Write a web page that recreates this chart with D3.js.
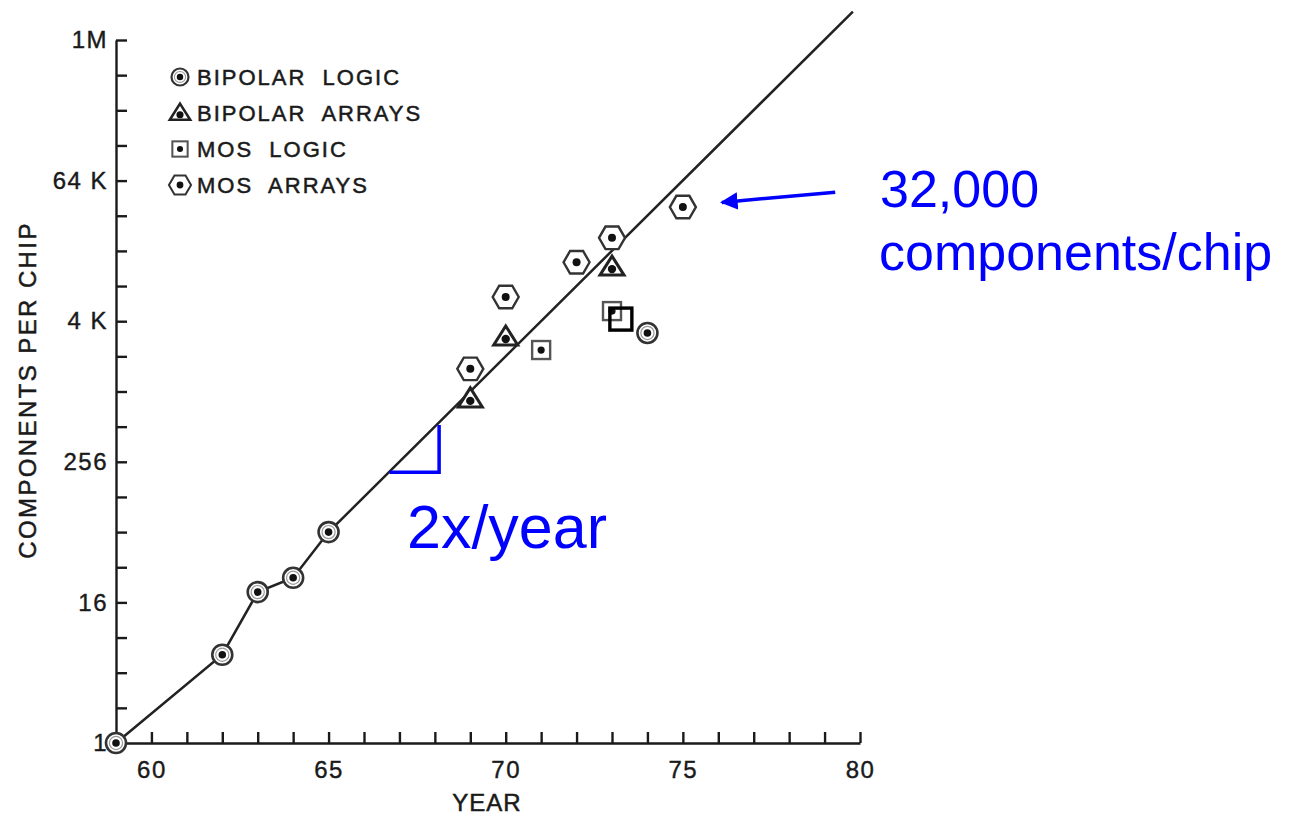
<!DOCTYPE html>
<html>
<head>
<meta charset="utf-8">
<script src="https://cdn.jsdelivr.net/npm/d3@7"></script>
<style>
  body { margin: 0; background: #fff; }
  .lettering { font-family: "Liberation Sans", Arial, sans-serif; fill: #1a1a1a; stroke: #1a1a1a; stroke-width: 0.5; }
  .axis path, .axis line { stroke: #1a1a1a; stroke-width: 2.4; }
  .axis text { font-family: "Liberation Sans", Arial, sans-serif; fill: #1a1a1a; stroke: #1a1a1a; stroke-width: 0.4; font-size: 24px; letter-spacing: 1.5px; }
  .note { font-family: "Liberation Sans", Arial, sans-serif; fill: #0000ff; }
</style>
</head>
<body>
<div id="chart"></div>
<script>
var svgWidth = 1295;
var svgHeight = 815;

// 1959-65 measured points and the extrapolated doubling line
var trendYears = [59, 62, 63, 64, 65, 79.8];
var trendValues = [1, 5.7, 19.6, 26, 64, 1835000];

var bipolarLogicYears = [59, 62, 63, 64, 65, 74];
var bipolarLogicValues = [1, 5.7, 19.6, 26, 64, 3250];

var bipolarArraysYears = [69, 70, 73];
var bipolarArraysValues = [885, 3000, 11900];

var mosLogicYears = [71, 73];
var mosLogicValues = [2320, 5000];

var mosArraysYears = [69, 70, 72, 73, 75];
var mosArraysValues = [1600, 6600, 13100, 21200, 38900];

// hand-added open square
var extraYears = [73.25];
var extraValues = [4270];

var yTickValues = d3.range(0, 21).map(d => Math.pow(2, d));
var yTickLabels = {1: "1", 16: "16", 256: "256", 4096: "4 K", 65536: "64 K", 1048576: "1M"};
var xTickValues = d3.range(60, 81);
var legendLabels = ["BIPOLAR  LOGIC", "BIPOLAR  ARRAYS", "MOS  LOGIC", "MOS  ARRAYS"];

var svg = d3.select("#chart").append("svg").attr("width", svgWidth).attr("height", svgHeight);

var xScale = d3.scaleLinear().domain([59, 80]).range([116, 860]);
var yScale = d3.scaleLog().base(2).domain([1, Math.pow(2, 20)]).range([743, 40]);

var bottomAxis = d3.axisBottom(xScale).tickValues(xTickValues)
    .tickFormat(d => d % 5 === 0 ? d : "").tickSizeInner(-11).tickSizeOuter(0).tickPadding(18);
var leftAxis = d3.axisLeft(yScale).tickValues(yTickValues)
    .tickFormat(d => yTickLabels[d] || "").tickSizeInner(-11).tickSizeOuter(0).tickPadding(8);

svg.append("g").attr("class", "axis").attr("transform", "translate(0,743)").call(bottomAxis);
svg.append("g").attr("class", "axis").attr("transform", "translate(116,0)").call(leftAxis);

svg.append("text").attr("class", "lettering").attr("x", 487).attr("y", 811)
    .attr("text-anchor", "middle").style("font-size", "24px").style("letter-spacing", "1px").text("YEAR");
svg.append("text").attr("class", "lettering").attr("transform", "translate(36,390) rotate(-90)")
    .attr("text-anchor", "middle").style("font-size", "24px").style("letter-spacing", "2.4px")
    .text("COMPONENTS PER CHIP");

// trend line
var trend = d3.zip(trendYears, trendValues);
svg.append("path").datum(trend)
    .attr("d", d3.line().x(d => xScale(d[0])).y(d => yScale(d[1])))
    .attr("fill", "none").attr("stroke", "#222").attr("stroke-width", 2.5);

// marker drawing helpers
function hexPath(r) {
    var pts = d3.range(6).map(i => [r * Math.cos(i * Math.PI / 3), r * Math.sin(i * Math.PI / 3)]);
    return d3.line()(pts) + "Z";
}
function drawMarker(g, kind) {
    if (kind === "circle") {
        g.append("circle").attr("r", 10).attr("fill", "#fff").attr("stroke", "#333").attr("stroke-width", 2.6);
        g.append("circle").attr("r", 6.6).attr("fill", "none").attr("stroke", "#999").attr("stroke-width", 1.2);
        g.append("circle").attr("r", 3.8).attr("fill", "#111");
    } else if (kind === "triangle") {
        g.append("path").attr("d", "M0,-11L12,8L-12,8Z").attr("fill", "#fff").attr("stroke", "#222").attr("stroke-width", 3);
        g.append("circle").attr("cy", 2).attr("r", 4.2).attr("fill", "#111");
    } else if (kind === "square") {
        g.append("rect").attr("x", -9).attr("y", -9).attr("width", 18).attr("height", 18)
            .attr("fill", "#fff").attr("stroke", "#555").attr("stroke-width", 2.4);
        g.append("circle").attr("r", 3.6).attr("fill", "#111");
    } else if (kind === "hexagon") {
        g.append("path").attr("d", hexPath(13)).attr("fill", "#fff").attr("stroke", "#333").attr("stroke-width", 2.4);
        g.append("circle").attr("r", 4).attr("fill", "#111");
    } else if (kind === "open") {
        g.append("rect").attr("x", -11).attr("y", -11).attr("width", 22).attr("height", 22)
            .attr("fill", "none").attr("stroke", "#000").attr("stroke-width", 3.4);
    }
}

var series = [
    {kind: "circle", years: bipolarLogicYears, values: bipolarLogicValues},
    {kind: "triangle", years: bipolarArraysYears, values: bipolarArraysValues},
    {kind: "square", years: mosLogicYears, values: mosLogicValues},
    {kind: "hexagon", years: mosArraysYears, values: mosArraysValues},
    {kind: "open", years: extraYears, values: extraValues}
];

series.forEach(function(s) {
    var pts = d3.zip(s.years, s.values);
    svg.selectAll(null).data(pts).enter().append("g")
        .attr("transform", d => `translate(${xScale(d[0])},${yScale(d[1])})`)
        .each(function() { drawMarker(d3.select(this), s.kind); });
});

// legend
var legend = svg.append("g").attr("transform", "translate(180,77)");
legendLabels.forEach(function(label, i) {
    var row = legend.append("g").attr("transform", `translate(0,${i * 36})`);
    var m = row.append("g").attr("transform", "scale(0.85)");
    drawMarker(m, series[i].kind);
    row.append("text").attr("class", "lettering").attr("x", 17).attr("y", 8)
        .style("font-size", "22px").style("letter-spacing", "2px").style("white-space", "pre")
        .text(label);
});

// blue annotations
var blue = "#0000ff";
svg.append("path")
    .attr("d", `M${xScale(66.72)},${yScale(Math.pow(2, 7.7))}H${xScale(68.12)}V${yScale(Math.pow(2, 9.05))}`)
    .attr("fill", "none").attr("stroke", blue).attr("stroke-width", 3.5);
svg.append("text").attr("class", "note").attr("x", 407).attr("y", 548).style("font-size", "61px").text("2x/year");

var defs = svg.append("defs");
defs.append("marker").attr("id", "arrow").attr("viewBox", "0 0 10 10").attr("refX", 9).attr("refY", 5)
    .attr("markerWidth", 5).attr("markerHeight", 5).attr("orient", "auto")
    .append("path").attr("d", "M0,0L10,5L0,10Z").attr("fill", blue);
svg.append("line")
    .attr("x1", xScale(79.3)).attr("y1", yScale(Math.pow(2, 15.67)))
    .attr("x2", xScale(76.1)).attr("y2", yScale(Math.pow(2, 15.38)))
    .attr("stroke", blue).attr("stroke-width", 3.5).attr("marker-end", "url(#arrow)");
svg.append("text").attr("class", "note").attr("x", 880).attr("y", 207).style("font-size", "52px").text("32,000");
svg.append("text").attr("class", "note").attr("x", 879).attr("y", 270).style("font-size", "52px").text("components/chip");
</script>
</body>
</html>
